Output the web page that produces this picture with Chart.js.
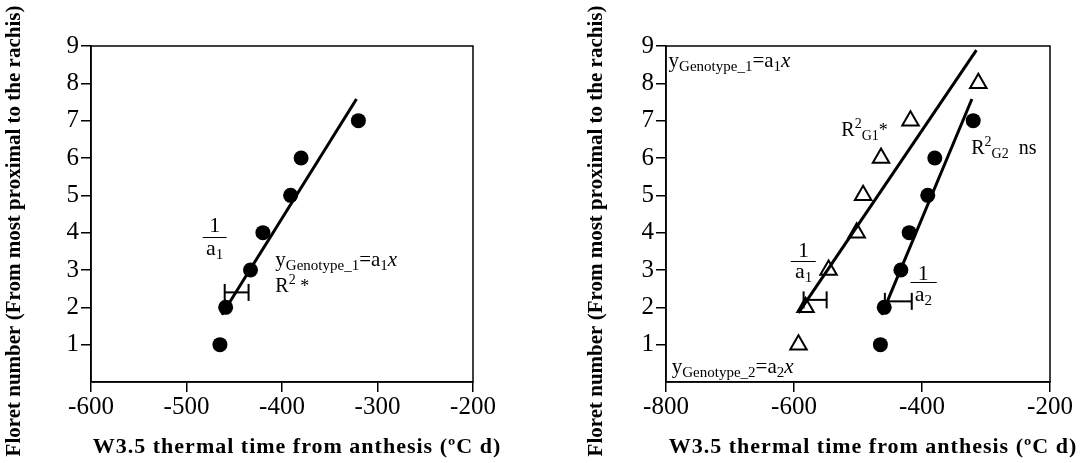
<!DOCTYPE html>
<html>
<head>
<meta charset="utf-8">
<script src="https://cdn.jsdelivr.net/npm/chart.js@4"></script>
<style>
  html, body { margin: 0; padding: 0; background: #fff; }
  #wrap { position: relative; width: 1081px; height: 463px; }
  .panel { position: absolute; top: 0; }
</style>
</head>
<body>
<div id="wrap">
  <div class="panel" style="left:0"><canvas id="left-chart" width="540" height="463"></canvas></div>
  <div class="panel" style="left:540px"><canvas id="right-chart" width="541" height="463"></canvas></div>
</div>
<script>
// Floret number (y) against thermal time from anthesis (x)
const floretG2 = [1, 2, 3, 4, 5, 6, 7];
const timeG2 = [-465, -459, -433, -420, -391, -380, -320];
const floretG1 = [1, 2, 3, 4, 5, 6, 7, 8];
const timeG1 = [-593, -582, -546, -502, -492, -464, -418, -312];

// fitted lines (end points)
const fitG1X = [-593, -315];
const fitG1Y = [1.85, 8.89];
const fitG2X = [-463, -322];
const fitG2Y = [1.8, 7.58];

// 1/a brackets
const bracketLeftX = [-460, -435];
const bracketLeftY = 2.4;
const bracketG1X = [-585, -549];
const bracketG1Y = 2.2;
const bracketG2X = [-458, -416];
const bracketG2Y = 2.16;

const yTicks = [0, 9, 1];
const leftXRange = [-600, -200, 100];
const rightXRange = [-800, -200, 200];

const xTitle = 'W3.5 thermal time from anthesis (\u00baC d)';
const yTitle = 'Floret number (From most proximal to the rachis)';

const SERIF = '"Liberation Serif", "Times New Roman", serif';

function pts(xs, ys) {
  return xs.map((x, i) => ({ x: x, y: Array.isArray(ys) ? ys[i] : ys }));
}

function lineSet(xs, ys) {
  return { data: pts(xs, ys), showLine: true, borderColor: '#000', borderWidth: 3, pointRadius: 0 };
}

function bracketSet(xs, y) {
  return {
    data: pts(xs, y), showLine: true, borderColor: '#000', borderWidth: 2,
    pointStyle: 'line', rotation: 90, pointRadius: 8.5, pointBorderWidth: 2, pointBorderColor: '#000'
  };
}

function circleSet(xs, ys) {
  return { data: pts(xs, ys), pointStyle: 'circle', pointRadius: 7.5, backgroundColor: '#000', borderColor: '#000', borderWidth: 0 };
}

function triangleSet(xs, ys) {
  return { data: pts(xs, ys), pointStyle: 'triangle', pointRadius: 9.5, backgroundColor: '#fff', borderColor: '#000', borderWidth: 2 };
}

function makeScales(range, yWidth) {
  const axisLine = { color: '#000', width: 1.5 };
  return {
    x: {
      type: 'linear', min: range[0], max: range[1],
      ticks: { stepSize: range[2], color: '#000', font: { family: SERIF, size: 25 }, padding: 0, maxRotation: 0 },
      grid: { drawOnChartArea: false, tickLength: 10, color: '#000', lineWidth: 1.5 },
      border: axisLine,
      afterFit: (s) => { s.height = 81; }
    },
    y: {
      type: 'linear', min: yTicks[0], max: yTicks[1],
      ticks: { stepSize: yTicks[2], color: '#000', font: { family: SERIF, size: 25 }, padding: 2,
        callback: (v) => (v === 0 ? '' : v) },
      grid: { drawOnChartArea: false, tickLength: 10, lineWidth: 1.5,
        color: (c) => (c.tick && c.tick.value === 0 ? 'rgba(0,0,0,0)' : '#000') },
      border: axisLine,
      afterFit: (s) => { s.width = yWidth; }
    }
  };
}

// text pieces: [text, size, dy, italic]
function drawRich(ctx, x, y, parts, align) {
  const fontOf = (p) => (p[3] ? 'italic ' : '') + p[1] + 'px ' + SERIF;
  let w = 0;
  parts.forEach((p) => { ctx.font = fontOf(p); w += ctx.measureText(p[0]).width; });
  let cx = align === 'center' ? x - w / 2 : x;
  parts.forEach((p) => {
    ctx.font = fontOf(p);
    ctx.fillText(p[0], cx, y + p[2]);
    cx += ctx.measureText(p[0]).width;
  });
}

const notesPlugin = {
  id: 'notes',
  beforeDatasetsDraw(chart) {
    const { ctx, chartArea } = chart;
    ctx.save();
    ctx.strokeStyle = '#000';
    ctx.lineWidth = 1.5;
    ctx.strokeRect(chartArea.left, chartArea.top, chartArea.right - chartArea.left, chartArea.bottom - chartArea.top);
    ctx.restore();
  },
  afterDraw(chart, args, opts) {
    const { ctx, chartArea } = chart;
    const sx = chart.scales.x, sy = chart.scales.y;
    ctx.save();
    ctx.fillStyle = '#000';
    ctx.strokeStyle = '#000';
    ctx.textBaseline = 'alphabetic';
    ctx.textAlign = 'left';
    (opts.items || []).forEach((it) => {
      if (it.rule) {
        const y = Math.round(sy.getPixelForValue(it.y)) + 0.5;
        ctx.lineWidth = 1;
        ctx.beginPath();
        ctx.moveTo(sx.getPixelForValue(it.rule[0]), y);
        ctx.lineTo(sx.getPixelForValue(it.rule[1]), y);
        ctx.stroke();
      } else {
        drawRich(ctx, sx.getPixelForValue(it.x), sy.getPixelForValue(it.y), it.parts, it.align);
      }
    });

    // axis titles
    ctx.textAlign = 'center';
    ctx.textBaseline = 'middle';
    ctx.font = 'bold 22px ' + SERIF;
    ctx.letterSpacing = '1px';
    ctx.fillText(xTitle, (chartArea.left + chartArea.right) / 2 + 15, 447);
    ctx.letterSpacing = '0px';
    ctx.translate(opts.yTitleX, 231);
    ctx.rotate(-Math.PI / 2);
    ctx.font = 'bold 21px ' + SERIF;
    ctx.fillText(yTitle, 0, 0);
    ctx.restore();
  }
};

function eq(sub, a) {
  return [['y', 21, 0], ['Genotype_' + sub, 15, 4], ['=a', 21, 0], [a, 15, 4], ['x', 21, 0, true]];
}
function frac(x, y1, yBar, y2, barFrom, barTo, sub) {
  return [
    { x: x, y: y1, parts: [['1', 22, 0]], align: 'center' },
    { rule: [barFrom, barTo], y: yBar },
    { x: x, y: y2, parts: [['a', 22, 0], [sub, 15, 4]], align: 'center' }
  ];
}

const baseOptions = {
  responsive: false,
  animation: false,
  events: [],
  plugins: { legend: { display: false }, tooltip: { enabled: false } }
};

new Chart(document.getElementById('left-chart').getContext('2d'), {
  type: 'scatter',
  data: {
    datasets: [
      lineSet(fitG2X, fitG2Y),
      bracketSet(bracketLeftX, bracketLeftY),
      circleSet(timeG2, floretG2)
    ]
  },
  options: Object.assign({}, baseOptions, {
    layout: { padding: { top: 46, right: 67, left: 0, bottom: 0 } },
    scales: makeScales(leftXRange, 91),
    plugins: Object.assign({}, baseOptions.plugins, {
      notes: {
        yTitleX: 15,
        items: [
          { x: -407, y: 3.1, parts: eq('1', '1') },
          { x: -407, y: 2.4, parts: [['R', 20, 0], ['2', 14, -8], [' *', 18, 0]] }
        ].concat(frac(-470.5, 4.03, 3.88, 3.41, -483, -458, '1'))
      }
    })
  }),
  plugins: [notesPlugin]
});

new Chart(document.getElementById('right-chart').getContext('2d'), {
  type: 'scatter',
  data: {
    datasets: [
      lineSet(fitG1X, fitG1Y),
      lineSet(fitG2X, fitG2Y),
      bracketSet(bracketG1X, bracketG1Y),
      bracketSet(bracketG2X, bracketG2Y),
      triangleSet(timeG1, floretG1),
      circleSet(timeG2, floretG2)
    ]
  },
  options: Object.assign({}, baseOptions, {
    layout: { padding: { top: 46, right: 31, left: 0, bottom: 0 } },
    scales: makeScales(rightXRange, 126),
    plugins: Object.assign({}, baseOptions.plugins, {
      notes: {
        yTitleX: 57,
        items: [
          { x: -796, y: 8.45, parts: eq('1', '1') },
          { x: -791, y: 0.24, parts: eq('2', '2') },
          { x: -526, y: 6.59, parts: [['R', 20, 0], ['2', 14, -8], ['G1', 14, 4], ['*', 18, 0]] },
          { x: -323, y: 6.11, parts: [['R', 20, 0], ['2', 14, -8], ['G2', 14, 4], ['  ns', 20, 0]] }
        ].concat(frac(-585, 3.36, 3.25, 2.78, -605, -566, '1'))
         .concat(frac(-398, 2.74, 2.67, 2.16, -418, -377, '2'))
      }
    })
  }),
  plugins: [notesPlugin]
});
</script>
</body>
</html>
